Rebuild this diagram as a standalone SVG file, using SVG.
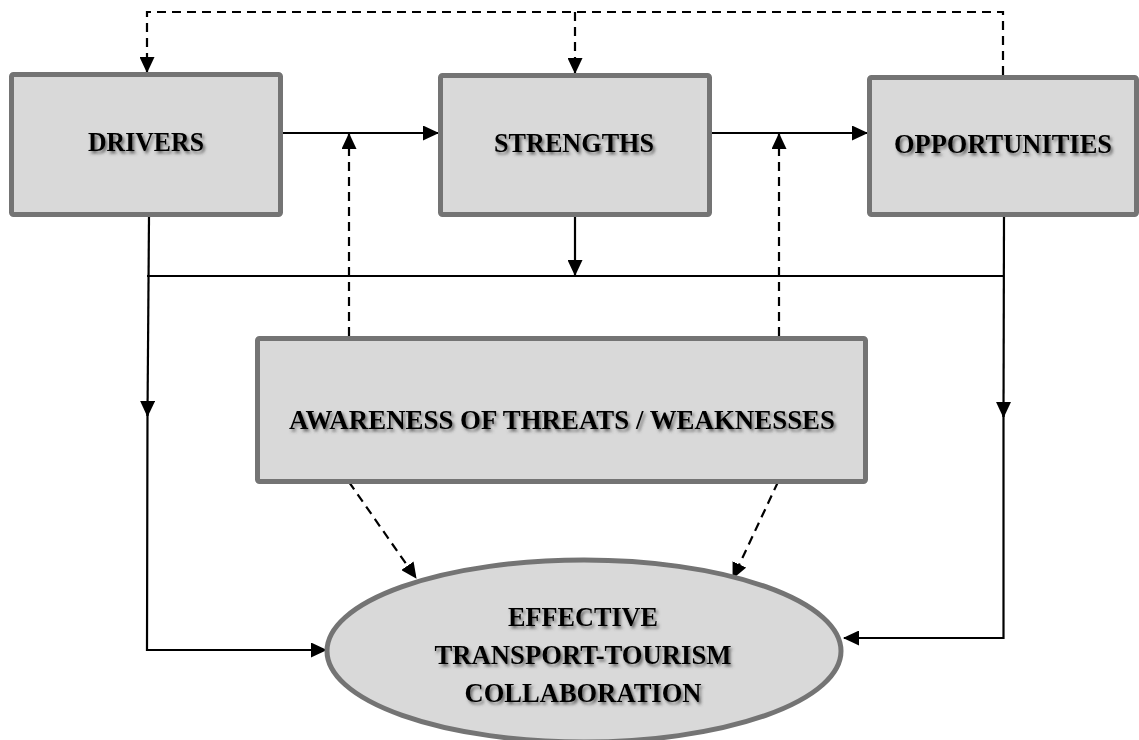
<svg xmlns="http://www.w3.org/2000/svg" width="1139" height="740" viewBox="0 0 1139 740">
  <defs>
    <marker id="arrow" viewBox="0 0 16 15" refX="15" refY="7.5" markerWidth="16" markerHeight="15" markerUnits="userSpaceOnUse" orient="auto">
      <path d="M0,0 L16,7.5 L0,15 Z" fill="#000"/>
    </marker>
    <filter id="shadow" x="-10%" y="-40%" width="120%" height="180%">
      <feDropShadow dx="2" dy="2.5" stdDeviation="1.4" flood-color="#444" flood-opacity="0.75"/>
    </filter>
  </defs>
  <style>
    .box { fill: #d9d9d9; stroke: #747474; stroke-width: 5; }
    .label { font-family: "Liberation Serif", "Times New Roman", serif; font-weight: bold; font-size: 28px; fill: #000; text-anchor: middle; filter: url(#shadow); }
    .solid { fill: none; stroke: #000; stroke-width: 2.2; }
    .dash { fill: none; stroke: #000; stroke-width: 2.2; stroke-dasharray: 9 6; }
  </style>
  <rect width="1139" height="740" fill="#fff"/>

  <!-- connectors -->
  <g id="connectors">
    <!-- dashed feedback loop across the top -->
    <path class="dash" d="M1003,75 L1003,12 L147,12 L147,72" marker-end="url(#arrow)"/>
    <path class="dash" d="M575,12 L575,73" marker-end="url(#arrow)"/>
    <!-- main flow -->
    <path class="solid" d="M283,133 L438,133" marker-end="url(#arrow)"/>
    <path class="solid" d="M712,133 L867,133" marker-end="url(#arrow)"/>
    <!-- awareness feeding the main flow -->
    <path class="dash" d="M349,336 L349,134" marker-end="url(#arrow)"/>
    <path class="dash" d="M779,336 L779,134" marker-end="url(#arrow)"/>
    <!-- strengths down to the cross bar -->
    <path class="solid" d="M575,217 L575,275" marker-end="url(#arrow)"/>
    <path class="solid" d="M147,276 L1004,276"/>
    <!-- left branch from drivers -->
    <path class="solid" d="M149,217 L147.5,416" marker-end="url(#arrow)"/>
    <path class="solid" d="M147.5,410 L147,650 L326,650" marker-end="url(#arrow)"/>
    <!-- right branch from opportunities -->
    <path class="solid" d="M1004,217 L1003.5,417" marker-end="url(#arrow)"/>
    <path class="solid" d="M1003.5,410 L1003.5,638 L844,638" marker-end="url(#arrow)"/>
    <!-- awareness down to the outcome -->
    <path class="dash" d="M349,482 L416,578" marker-end="url(#arrow)"/>
    <path class="dash" d="M778,482 L733,578" marker-end="url(#arrow)"/>
  </g>

  <g id="drivers">
    <rect class="box" x="11.5" y="74.5" width="269" height="140" rx="2"/>
    <text class="label" x="146" y="151" textLength="116" lengthAdjust="spacingAndGlyphs">DRIVERS</text>
  </g>
  <g id="strengths">
    <rect class="box" x="440.5" y="75.5" width="269" height="139" rx="2"/>
    <text class="label" x="574" y="152" textLength="160" lengthAdjust="spacingAndGlyphs">STRENGTHS</text>
  </g>
  <g id="opportunities">
    <rect class="box" x="869.5" y="77.5" width="267" height="137" rx="2"/>
    <text class="label" x="1003" y="153" textLength="218" lengthAdjust="spacingAndGlyphs">OPPORTUNITIES</text>
  </g>
  <g id="awareness">
    <rect class="box" x="257.5" y="338.5" width="608" height="143" rx="2"/>
    <text class="label" x="562" y="429" textLength="546" lengthAdjust="spacingAndGlyphs">AWARENESS OF THREATS / WEAKNESSES</text>
  </g>
  <g id="collaboration">
    <ellipse class="box" cx="584" cy="651" rx="257" ry="91"/>
    <text class="label" x="583" y="626" textLength="150" lengthAdjust="spacingAndGlyphs">EFFECTIVE</text>
    <text class="label" x="583" y="664" textLength="297" lengthAdjust="spacingAndGlyphs">TRANSPORT-TOURISM</text>
    <text class="label" x="583" y="702" textLength="237" lengthAdjust="spacingAndGlyphs">COLLABORATION</text>
  </g>
</svg>
